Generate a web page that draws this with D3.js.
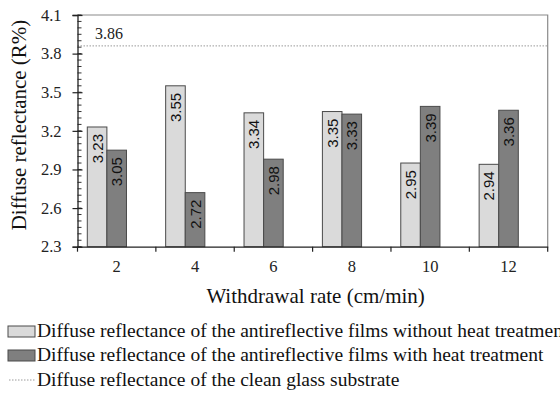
<!DOCTYPE html>
<html>
<head>
<meta charset="utf-8">
<script src="https://cdn.jsdelivr.net/npm/d3@7"></script>
<style>
  body { margin: 0; background: #fff; }
  svg { display: block; }
  .serif { font-family: "Liberation Serif", "DejaVu Serif", "Times New Roman", serif; }
  .sans { font-family: "Liberation Sans", Arial, sans-serif; }
</style>
</head>
<body>
<div id="chart"></div>
<script>
// data
const rates = ['2', '4', '6', '8', '10', '12']
const withoutHeat = [3.23, 3.55, 3.34, 3.35, 2.95, 2.94]
const withHeat = [3.05, 2.72, 2.98, 3.33, 3.39, 3.36]
const glassValue = 3.86
const yTicks = [2.3, 2.6, 2.9, 3.2, 3.5, 3.8, 4.1]
const legendLabels = [
  'Diffuse reflectance of the antireflective films without heat treatment',
  'Diffuse reflectance of the antireflective films with heat treatment',
  'Diffuse reflectance of the clean glass substrate'
]

const width = 560
const height = 393
const margin = {left: 77.5, right: 12.3, top: 15, bottom: 146.3}

const svg = d3.select('#chart').append('svg')
  .attr('width', width)
  .attr('height', height)

const x0 = d3.scaleBand()
  .domain(rates)
  .range([margin.left, width - margin.right])
  .padding(0)

// third slot is empty, the glass line sits in the chart as a series without bars
const x1 = d3.scaleBand()
  .domain(['without', 'with', 'glass'])
  .range([0, x0.bandwidth()])
  .paddingInner(0)
  .paddingOuter(0.5)

const y = d3.scaleLinear()
  .domain([2.3, 4.1])
  .range([height - margin.bottom, margin.top])

const plotBottom = y(2.3)
const plotTop = y(4.1)
const plotRight = width - margin.right

// frame top/right
svg.append('path')
  .attr('d', `M${margin.left},${plotTop}H${plotRight}V${plotBottom}`)
  .attr('fill', 'none')
  .attr('stroke', '#8a8a8a')
  .attr('stroke-width', 1.2)

// glass substrate line
svg.append('line')
  .attr('x1', margin.left).attr('x2', plotRight)
  .attr('y1', y(glassValue)).attr('y2', y(glassValue))
  .attr('stroke', '#9a9a9a')
  .attr('stroke-width', 1)
  .attr('stroke-dasharray', '1.5,1.5')

svg.append('text')
  .attr('class', 'serif')
  .attr('x', 95).attr('y', y(glassValue) - 7)
  .attr('font-size', 16)
  .attr('fill', '#222')
  .text(glassValue.toFixed(2))

// bars
const rows = rates.map((r, i) => ({rate: r, without: withoutHeat[i], with: withHeat[i]}))
const series = [
  {key: 'without', fill: '#dadada'},
  {key: 'with', fill: '#7f7f7f'}
]

const groups = svg.selectAll('g.grp')
  .data(rows)
  .enter().append('g')
  .attr('class', 'grp')
  .attr('transform', d => `translate(${x0(d.rate)},0)`)

series.forEach(s => {
  groups.append('rect')
    .attr('x', x1(s.key))
    .attr('y', d => y(d[s.key]))
    .attr('width', x1.bandwidth())
    .attr('height', d => plotBottom - y(d[s.key]))
    .attr('fill', s.fill)
    .attr('stroke', '#4a4a4a')
    .attr('stroke-width', 1)

  groups.append('text')
    .attr('class', 'sans')
    .attr('transform', d => `translate(${x1(s.key) + x1.bandwidth() / 2 + 5.5},${y(d[s.key]) + 7}) rotate(-90)`)
    .attr('text-anchor', 'end')
    .attr('font-size', 15)
    .attr('fill', '#111')
    .text(d => d[s.key].toFixed(2))
})

// y axis
const minor = d3.range(2.3, 4.1001, 0.05)
svg.selectAll('line.minor')
  .data(minor)
  .enter().append('line')
  .attr('class', 'minor')
  .attr('x1', margin.left).attr('x2', margin.left + 4)
  .attr('y1', d => y(d)).attr('y2', d => y(d))
  .attr('stroke', '#333')
  .attr('stroke-width', 1)

const yAxis = svg.append('g')
  .attr('transform', `translate(${margin.left},0)`)
  .call(d3.axisLeft(y).tickValues(yTicks).tickFormat(d3.format('.1f')).tickSize(5).tickPadding(11))
yAxis.attr('font-family', null)
yAxis.select('.domain').attr('stroke', '#222').attr('stroke-width', 1.3)
yAxis.selectAll('.tick line').attr('x2', 5).attr('x1', -5).attr('stroke', '#222').attr('stroke-width', 1.2)
yAxis.selectAll('.tick text')
  .attr('class', 'serif')
  .attr('font-size', 16.5)
  .attr('fill', '#222')

// x axis: ticks at category boundaries
const xAxis = svg.append('g')
  .attr('transform', `translate(0,${plotBottom})`)
  .call(d3.axisBottom(x0).tickSize(0).tickPadding(14))
xAxis.attr('font-family', null)
xAxis.select('.domain').attr('stroke', '#222').attr('stroke-width', 1.3)
xAxis.selectAll('.tick text')
  .attr('class', 'serif')
  .attr('font-size', 16.5)
  .attr('fill', '#222')

const bounds = rates.map(r => x0(r)).concat([plotRight])
svg.selectAll('line.xb')
  .data(bounds)
  .enter().append('line')
  .attr('class', 'xb')
  .attr('x1', d => d).attr('x2', d => d)
  .attr('y1', plotBottom).attr('y2', plotBottom + 5)
  .attr('stroke', '#222')
  .attr('stroke-width', 1.2)

// axis titles
svg.append('text')
  .attr('class', 'serif')
  .attr('x', (margin.left + plotRight) / 2 + 3)
  .attr('y', 303)
  .attr('text-anchor', 'middle')
  .attr('font-size', 21)
  .attr('fill', '#111')
  .text('Withdrawal rate (cm/min)')

svg.append('text')
  .attr('class', 'serif')
  .attr('transform', `translate(26,${125}) rotate(-90)`)
  .attr('text-anchor', 'middle')
  .attr('font-size', 21)
  .attr('fill', '#111')
  .text('Diffuse reflectance (R%)')

// legend (first line runs past the right edge, as in the original)
const legY = [331, 355, 380]
const leg = svg.selectAll('g.leg')
  .data(legendLabels)
  .enter().append('g')
  .attr('class', 'leg')
  .attr('transform', (d, i) => `translate(0,${legY[i]})`)

leg.append('text')
  .attr('class', 'serif')
  .attr('x', 37)
  .attr('y', 6)
  .attr('font-size', 19.5)
  .attr('fill', '#111')
  .text(d => d)

leg.filter((d, i) => i < 2).append('rect')
  .attr('x', 8).attr('y', -5)
  .attr('width', 27).attr('height', 11)
  .attr('fill', (d, i) => series[i].fill)
  .attr('stroke', '#4a4a4a')
  .attr('stroke-width', 1)

leg.filter((d, i) => i === 2).append('line')
  .attr('x1', 9).attr('x2', 35)
  .attr('y1', 0).attr('y2', 0)
  .attr('stroke', '#9a9a9a')
  .attr('stroke-dasharray', '1.5,1.5')
</script>
</body>
</html>
